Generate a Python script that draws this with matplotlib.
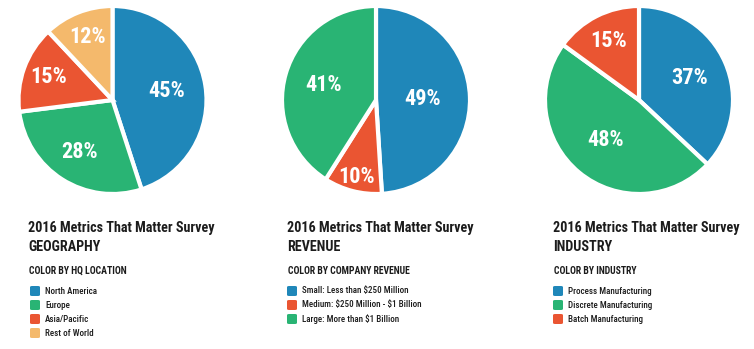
import matplotlib
matplotlib.use("Agg")
import matplotlib.pyplot as plt
from matplotlib.patches import FancyBboxPatch
import numpy as np

# chart data
geo_labels = ["North America", "Europe", "Asia/Pacific", "Rest of World"]
geo_values = [45, 28, 15, 12]
rev_labels = ["Small: Less than $250 Million", "Medium: $250 Million - $1 Billion",
              "Large: More than $1 Billion"]
rev_values = [49, 10, 41]
ind_labels = ["Process Manufacturing", "Discrete Manufacturing", "Batch Manufacturing"]
ind_values = [37, 48, 15]

BLUE = "#1f87b9"
GREEN = "#29b474"
RED = "#ea5532"
TAN = "#f4b96c"
TXT = "#1c1c1c"
FONT = ["Roboto Condensed", "DejaVu Sans Condensed", "Liberation Sans Narrow",
        "Roboto", "DejaVu Sans"]

W, H = 754, 349
fig = plt.figure(figsize=(W / 100, H / 100), dpi=100)
fig.patch.set_facecolor("white")


def px(x, y):
    return x / W, 1 - y / H


panels = [
    dict(cx=112.5, title="GEOGRAPHY", sub="COLOR BY HQ LOCATION", labels=geo_labels,
         values=geo_values, colors=[BLUE, GREEN, RED, TAN], dist=[0.55, 0.62, 0.68, 0.68],
         tx=28, sq=30, lx=45),
    dict(cx=376, title="REVENUE", sub="COLOR BY COMPANY REVENUE", labels=rev_labels,
         values=rev_values, colors=[BLUE, RED, GREEN], dist=[0.47, 0.8, 0.55],
         tx=287, sq=287, lx=302),
    dict(cx=639, title="INDUSTRY", sub="COLOR BY INDUSTRY", labels=ind_labels,
         values=ind_values, colors=[BLUE, GREEN, RED], dist=[0.55, 0.52, 0.66],
         tx=553, sq=553, lx=568),
]

cy = 100
for p in panels:
    ax = fig.add_axes([(p["cx"] - 100) / W, (H - cy - 100) / H, 200 / W, 200 / H])
    wedges, _ = ax.pie(p["values"], colors=p["colors"], startangle=90, counterclock=False,
                       radius=0.94, wedgeprops=dict(edgecolor="white", linewidth=3))
    ax.set_xlim(-1, 1)
    ax.set_ylim(-1, 1)
    ax.axis("off")
    for w, v, d in zip(wedges, p["values"], p["dist"]):
        ang = np.deg2rad((w.theta1 + w.theta2) / 2)
        ax.text(d * np.cos(ang), d * np.sin(ang), f"{v}%", ha="center", va="center",
                color="white", fontsize=16, fontweight="bold", family=FONT)

    fig.text(*px(p["tx"], 228), "2016 Metrics That Matter Survey", ha="left", va="center",
             fontsize=10.2, fontweight="bold", color=TXT, family=FONT)
    fig.text(*px(p["tx"], 247), p["title"], ha="left", va="center",
             fontsize=10.2, fontweight="bold", color=TXT, family=FONT)
    fig.text(*px(p["tx"] + 1, 271), p["sub"], ha="left", va="center",
             fontsize=7, fontweight="bold", color=TXT, family=FONT)
    for i, (lab, col) in enumerate(zip(p["labels"], p["colors"])):
        y = 291 + i * 14
        x0, y0 = px(p["sq"], y + 5)
        fig.add_artist(FancyBboxPatch((x0, y0), 10 / W, 10 / H,
                                      boxstyle="round,pad=0,rounding_size=0.003",
                                      transform=fig.transFigure, facecolor=col,
                                      edgecolor="none"))
        fig.text(*px(p["lx"], y), lab, ha="left", va="center", parse_math=False,
                 fontsize=6.5, fontweight="medium", color=TXT, family=FONT)

fig.savefig("out.png", dpi=100, facecolor="white")
